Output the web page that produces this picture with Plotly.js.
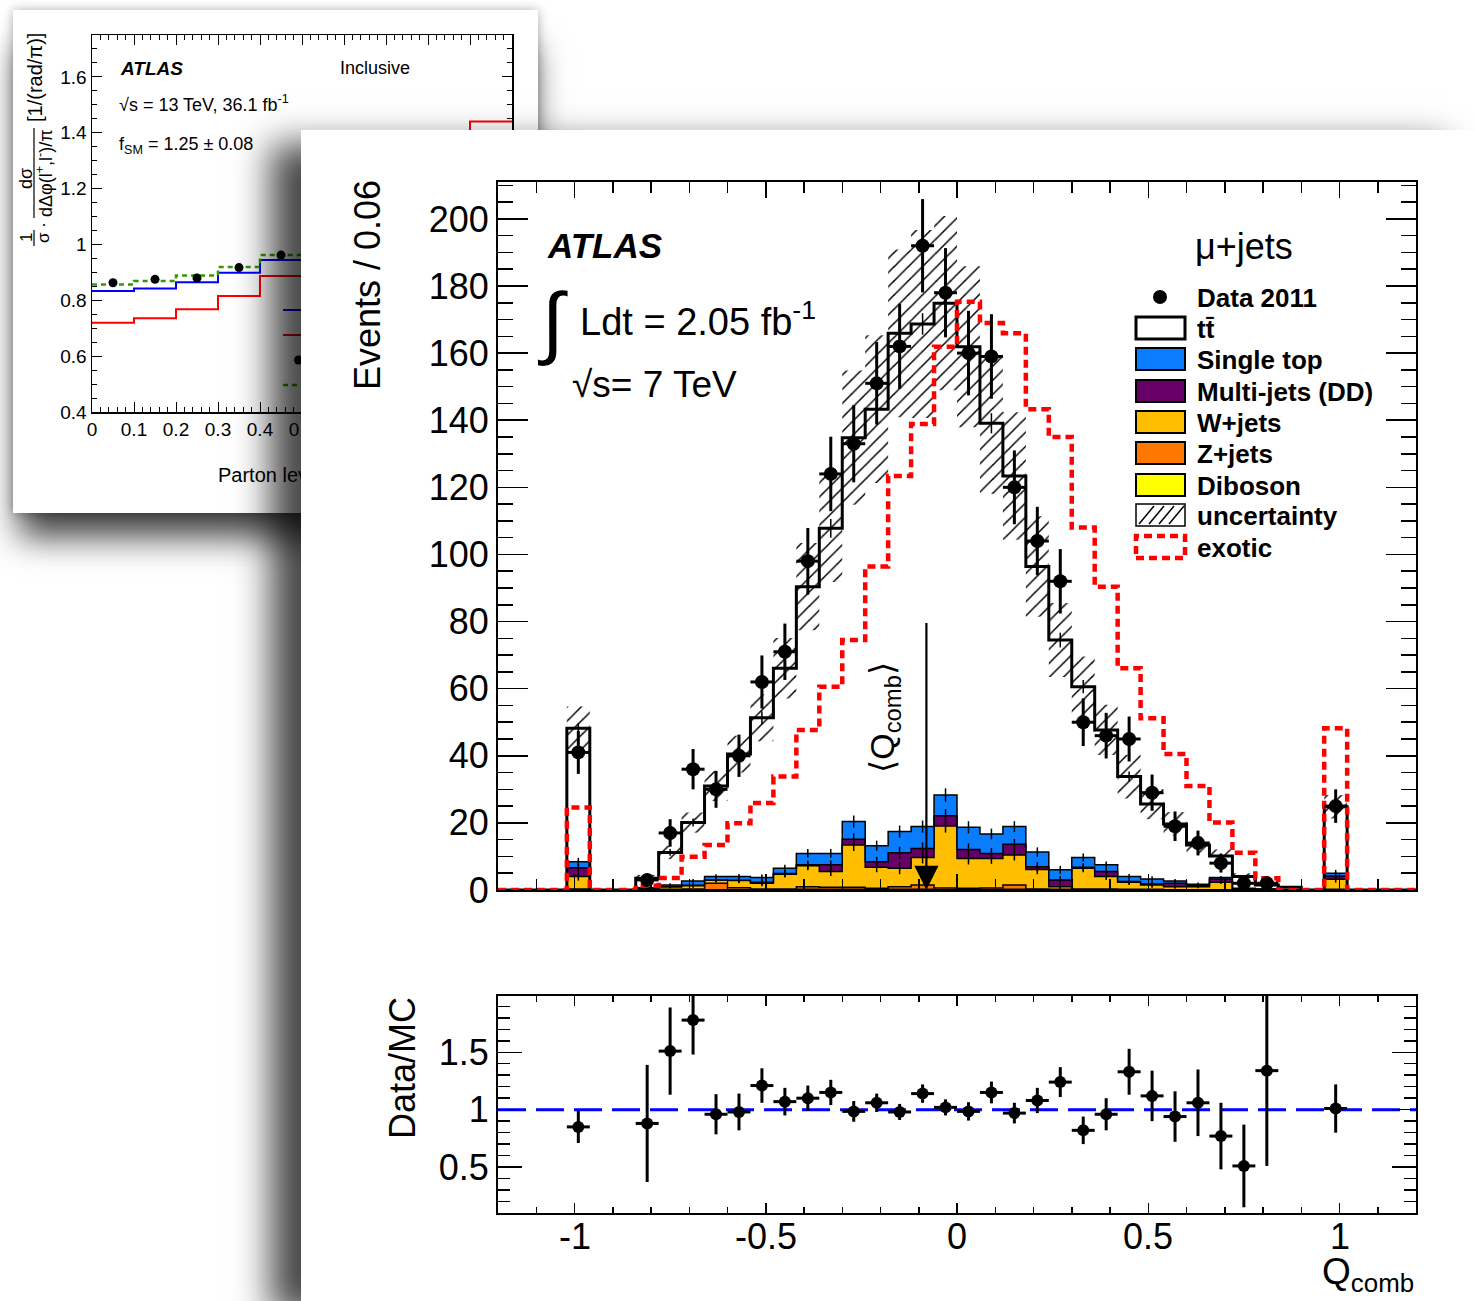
<!DOCTYPE html>
<html><head><meta charset="utf-8">
<script src="https://cdn.plot.ly/plotly-3.0.1.min.js"></script>
<style>
html,body{margin:0;padding:0;background:#fff;width:1475px;height:1301px;overflow:hidden;}
#bg{position:absolute;left:13px;top:10px;width:525px;height:503px;background:#fff;box-shadow:0 30px 32px -6px rgba(0,0,0,0.75),0 0 10px rgba(0,0,0,0.3);z-index:1;}
#main{position:absolute;left:301px;top:130px;width:1174px;height:1171px;background:#fff;box-shadow:-30px 14px 34px rgba(0,0,0,0.72);z-index:2;}
</style></head><body>
<div id="bg"></div><div id="main"></div>
<script>
const FONT = 'Liberation Sans, Arial, Helvetica, DejaVu Sans, sans-serif';

// ================= MAIN CHART DATA =================
const binEdges = [-1.2,-1.14,-1.08,-1.02,-0.96,-0.9,-0.84,-0.78,-0.72,-0.66,-0.6,-0.54,-0.48,-0.42,-0.36,-0.3,-0.24,-0.18,-0.12,-0.06,0,0.06,0.12,0.18,0.24,0.3,0.36,0.42,0.48,0.54,0.6,0.66,0.72,0.78,0.84,0.9,0.96,1.02,1.08,1.14,1.2];
const binCenters = [-1.17,-1.11,-1.05,-0.99,-0.93,-0.87,-0.81,-0.75,-0.69,-0.63,-0.57,-0.51,-0.45,-0.39,-0.33,-0.27,-0.21,-0.15,-0.09,-0.03,0.03,0.09,0.15,0.21,0.27,0.33,0.39,0.45,0.51,0.57,0.63,0.69,0.75,0.81,0.87,0.93,0.99,1.05,1.11,1.17];

const diboson   = [0,0,0,0,0,0,0,0,0,0.1,0.1,0.1,0.1,0.2,0.2,0.2,0.1,0.2,0.2,0.1,0.1,0.1,0.2,0.1,0.1,0.1,0.1,0,0,0,0,0,0,0,0,0,0,0,0,0];
const zjets     = [0,0,0,0.3,0,0,0.1,0.2,0.3,1.9,0.6,0.2,0.2,0.8,0.6,0.6,0.4,0.8,1.3,0.5,0.4,0.5,1.3,0.2,0.1,0.2,0.2,0.2,0.2,0.1,0.1,0.1,0.1,0,0,0,0.2,0,0,0];
const wjets     = [0,0,0,3.7,0,0,0.4,0.8,1.0,1.0,2.1,1.7,4.4,6.2,4.7,12.6,6.3,5.5,8.2,18.5,8.9,8.8,8.9,5.8,0.8,6.2,3.7,2.1,1.3,0.9,0.9,2.2,0.3,0.2,0,0,3.0,0,0,0];
const multijet  = [0,0,0,2.6,0,0,0,0,0.1,0,0.1,0.3,0.2,0.3,2.0,1.7,1.6,4.6,2.7,3.0,2.7,1.5,3.2,0.8,2.0,0.3,1.5,0.2,0.3,1.0,0.3,1.0,0,0,0,0,1.0,0,0,0];
const singletop = [0,0,0,1.8,0,0,0.1,0.5,1.3,1.0,1.1,1.4,1.6,3.4,3.4,5.3,4.8,6.3,6.5,6.2,6.6,5.8,5.3,4.4,3.0,2.9,2.0,1.5,1.5,0.7,0.4,0.4,0.1,0.1,0,0,0.8,0,0,0];
const ttbar     = [0,0,0,39.8,0,0,2.9,9.7,17.4,27.0,36.5,47.6,59.6,79.5,96.9,114.4,130.1,148.5,149.8,146.6,143.2,122.4,104.5,85.1,68.5,50.9,40.2,29.8,22.3,17.0,11.7,6.4,3.5,1.2,0.8,0,19.8,0,0,0];
const mcUnc     = [0,0,0,6.5,0,0,1.0,2.0,3.0,4.5,5.5,7,9,13,16,20,22,25,28,26,24,21,19,15,11,9,7.5,6.5,4.5,3.5,2.5,2,1,0.5,0.3,0,3.5,0,0,0];
const mcStat    = [0,0,0,1.5,0,0,0.5,1,1.2,1.5,1.8,2,2.2,2.5,2.8,3,3,3.2,3.2,3.3,3.2,3,2.8,2.5,2.2,2,1.8,1.5,1.3,1.1,1,0.8,0.5,0.4,0.3,0,1.2,0,0,0];
const bkgStat   = [0,0,0,1.2,0,0,0.3,0.5,0.6,0.7,0.8,0.9,1,1.3,1.3,1.8,1.5,1.8,1.8,2,1.8,1.6,1.6,1.4,1.2,1.2,1,0.8,0.8,0.6,0.5,0.5,0.3,0.2,0,0,1,0,0,0];
const exotic    = [0,0,0,24.6,0,0,1.3,3.6,9.9,13.4,19.9,25.9,33.8,47.7,60.6,74.5,96.4,123.4,138.9,161.9,175.3,169.0,165.9,143.3,135.0,108.0,90.4,66.1,51.2,40.5,31.0,20.1,11.1,3.5,0,0,48.2,0,0,0];

const dataX   = [-0.99,-0.81,-0.75,-0.69,-0.63,-0.57,-0.51,-0.45,-0.39,-0.33,-0.27,-0.21,-0.15,-0.09,-0.03,0.03,0.09,0.15,0.21,0.27,0.33,0.39,0.45,0.51,0.57,0.63,0.69,0.75,0.81,0.99];
const dataY   = [41,3,17,36,30,40,62,71,98,124,133,151,162,192,178,160,159,120,104,92,50,46,45,29,19,14,8,2,2,25];
const dataErr = [6.4,1.7,4.1,6.0,5.5,6.3,7.9,8.4,9.9,11.1,11.5,12.3,12.7,13.9,13.3,12.6,12.6,11.0,10.2,9.6,7.1,6.8,6.7,5.4,4.4,3.7,2.8,1.4,1.4,5.0];
const ratioY   = [0.85,0.88,1.51,1.78,0.96,0.98,1.21,1.07,1.10,1.15,0.985,1.06,0.98,1.14,1.02,0.985,1.15,0.97,1.08,1.24,0.82,0.96,1.33,1.12,0.94,1.06,0.77,0.51,1.34,1.01];
const ratioErr = [0.14,0.51,0.38,0.30,0.175,0.16,0.15,0.12,0.11,0.11,0.09,0.08,0.07,0.08,0.07,0.08,0.095,0.09,0.11,0.13,0.12,0.14,0.20,0.22,0.22,0.29,0.29,0.36,0.83,0.21];

const meanQ = -0.08;
const meanArrowTop = 80;

const legendLabels = ['Data 2011','tt\u0304','Single top','Multi-jets (DD)','W+jets','Z+jets','Diboson','uncertainty','exotic'];
const xTickVals = [-1,-0.5,0,0.5,1];
const xTickText = ['-1','-0.5','0','0.5','1'];

// ================= BACKGROUND CHART DATA =================
const bgEdges   = [0,0.1,0.2,0.3,0.4,0.5];
const bgCenters = [0.05,0.15,0.25,0.35,0.45];
const bgData    = [0.863,0.875,0.88,0.917,0.962];
const bgBlue    = [0.833,0.842,0.865,0.899,0.944];
const bgGreen   = [0.857,0.869,0.889,0.919,0.962];
const bgRed     = [0.72,0.736,0.768,0.815,0.887];
const bgRedTailEdges = [0.8,0.9,1.0];
const bgRedTail = [1.30,1.44];

// ================= helpers =================
const cum = (...arrs) => arrs[0].map((_, i) => arrs.reduce((s, a) => s + a[i], 0));
const stepY = a => a.concat([a[a.length - 1]]);
const lvlD  = cum(diboson);
const lvlZ  = cum(diboson, zjets);
const lvlW  = cum(diboson, zjets, wjets);
const lvlMJ = cum(diboson, zjets, wjets, multijet);
const lvlST = cum(diboson, zjets, wjets, multijet, singletop);
const lvlTot = cum(diboson, zjets, wjets, multijet, singletop, ttbar);

// main-area pixel -> paper
const PX = px => (px - 498) / 918;
const PY = py => (1213 - py) / 1031;

const colST = '#0a7dff', colMJ = '#660066', colW = '#ffbf00', colZ = '#ff7700', colDB = '#ffff00';

const traces = [];
function stackTrace(lvl, color, first) {
  traces.push({type:'scatter', mode:'lines', x: binEdges, y: stepY(lvl), xaxis:'x', yaxis:'y',
    line:{shape:'hv', color:'#000', width:1.5}, fill: first ? 'tozeroy' : 'tonexty', fillcolor: color, hoverinfo:'skip'});
}
stackTrace(lvlD, colDB, true);
stackTrace(lvlZ, colZ, false);
stackTrace(lvlW, colW, false);
stackTrace(lvlMJ, colMJ, false);
stackTrace(lvlST, colST, false);

// uncertainty hatch
const uX = [], uB = [], uH = [];
binCenters.forEach((c, i) => { if (mcUnc[i] > 0) { uX.push(c); uB.push(lvlTot[i] - mcUnc[i]); uH.push(2 * mcUnc[i]); } });
traces.push({type:'bar', x:uX, y:uH, base:uB, width:0.06, xaxis:'x', yaxis:'y',
  marker:{color:'rgba(0,0,0,0)', line:{width:0}, pattern:{shape:'/', fgcolor:'#000', bgcolor:'rgba(0,0,0,0)', size:10, solidity:0.15, fgopacity:1}}});

// total MC (ttbar top)
traces.push({type:'scatter', mode:'lines', x:binEdges, y:stepY(lvlTot), xaxis:'x', yaxis:'y', line:{shape:'hv', color:'#000', width:3}});

// stat ticks
function statTicks(lvl, err) {
  const x = [], y = [], e = [];
  binCenters.forEach((c, i) => { if (err[i] > 0) { x.push(c); y.push(lvl[i]); e.push(err[i]); } });
  traces.push({type:'scatter', mode:'markers', x, y, xaxis:'x', yaxis:'y', marker:{size:1, opacity:0},
    error_y:{type:'data', array:e, visible:true, color:'#000', thickness:1.5, width:0}});
}
statTicks(lvlW, bkgStat);
statTicks(lvlMJ, bkgStat);
statTicks(lvlST, bkgStat);
statTicks(lvlTot, mcStat);

// exotic
traces.push({type:'scatter', mode:'lines', x:binEdges, y:stepY(exotic), xaxis:'x', yaxis:'y', line:{shape:'hv', color:'#ff0000', width:4.5, dash:'8px,5px'}});

// data
traces.push({type:'scatter', mode:'markers', x:dataX, y:dataY, xaxis:'x', yaxis:'y', marker:{color:'#000', size:14},
  error_y:{type:'data', array:dataErr, color:'#000', thickness:3, width:0},
  error_x:{type:'constant', value:0.03, color:'#000', thickness:3, width:0}});

// ratio
traces.push({type:'scatter', mode:'markers', x:dataX, y:ratioY, xaxis:'x2', yaxis:'y2', marker:{color:'#000', size:12},
  error_y:{type:'data', array:ratioErr, color:'#000', thickness:3, width:0},
  error_x:{type:'constant', value:0.03, color:'#000', thickness:3, width:0}});

const ax = {showline:true, linecolor:'#000', linewidth:2, mirror:'allticks', ticks:'inside', tickcolor:'#000', tickwidth:1.5,
  showgrid:false, zeroline:false, tickfont:{family:FONT, size:36, color:'#000'}};

const shapes = [];
const anns = [];

// ratio reference line
shapes.push({type:'line', xref:'x2', yref:'y2', x0:-1.2, x1:1.2, y0:1, y1:1, layer:'below', line:{color:'#0000ff', width:3, dash:'28px,10px'}});

// x tick labels of the ratio panel
xTickVals.forEach((v, i) => anns.push({xref:'x2', yref:'paper', x:v, y:PY(1236), xanchor:'center', yanchor:'middle', showarrow:false,
  text:xTickText[i], font:{family:FONT, size:36, color:'#000'}}));

// Legend
const lx0 = PX(1136), lx1 = PX(1185), ltx = PX(1195);
const rows = [297, 328, 359, 391, 422, 453, 485, 515, 547];
shapes.push({type:'circle', xref:'paper', yref:'paper', x0:PX(1153), x1:PX(1167), y0:PY(304), y1:PY(290), fillcolor:'#000', line:{width:0}});
const boxFill = [null, '#ffffff', colST, colMJ, colW, colZ, colDB];
for (let r = 1; r <= 6; r++) {
  shapes.push({type:'rect', xref:'paper', yref:'paper', x0:lx0, x1:lx1, y0:PY(rows[r]+11), y1:PY(rows[r]-11), fillcolor:boxFill[r], line:{color:'#000', width: r===1 ? 3 : 2}});
}
// uncertainty box
shapes.push({type:'rect', xref:'paper', yref:'paper', x0:lx0, x1:lx1, y0:PY(rows[7]+11), y1:PY(rows[7]-11), line:{color:'#000', width:1.5}});
[1139,1149,1159,1169].forEach(s => shapes.push({type:'line', xref:'paper', yref:'paper', x0:PX(s), x1:PX(s+15), y0:PY(rows[7]+9), y1:PY(rows[7]-9), line:{color:'#000', width:1.5}}));
// exotic box
shapes.push({type:'rect', xref:'paper', yref:'paper', x0:lx0, x1:lx1, y0:PY(rows[8]+11), y1:PY(rows[8]-11), line:{color:'#ff0000', width:4.5, dash:'8px,5px'}});
legendLabels.forEach((t, i) => anns.push({xref:'paper', yref:'paper', x:ltx, y:PY(rows[i]+1), xanchor:'left', yanchor:'middle', showarrow:false,
  text:'<b>'+t+'</b>', font:{family:FONT, size:26, color:'#000'}}));
anns.push({xref:'paper', yref:'paper', x:PX(1193), y:PY(246), xanchor:'left', yanchor:'middle', showarrow:false, text:'\u03bc+jets', font:{family:FONT, size:36, color:'#000'}});

// ATLAS labels
anns.push({xref:'paper', yref:'paper', x:PX(545), y:PY(245), xanchor:'left', yanchor:'middle', showarrow:false, text:'<b><i>ATLAS</i></b>', font:{family:FONT, size:35, color:'#000'}});
anns.push({xref:'paper', yref:'paper', x:PX(535), y:PY(322), xanchor:'left', yanchor:'middle', showarrow:false, text:'\u222b', font:{family:FONT, size:80, color:'#000'}});
anns.push({xref:'paper', yref:'paper', x:PX(578), y:PY(319), xanchor:'left', yanchor:'middle', showarrow:false, text:'Ldt = 2.05 fb<sup>-1</sup>', font:{family:FONT, size:38, color:'#000'}});
anns.push({xref:'paper', yref:'paper', x:PX(570), y:PY(384), xanchor:'left', yanchor:'middle', showarrow:false, text:'\u221as= 7 TeV', font:{family:FONT, size:37, color:'#000'}});

// mean arrow + label
anns.push({xref:'x', yref:'y', x:meanQ, y:0, axref:'x', ayref:'y', ax:meanQ, ay:meanArrowTop, text:'', showarrow:true,
  arrowhead:2, arrowsize:2.2, arrowwidth:2.2, arrowcolor:'#000', standoff:0, startstandoff:0});
anns.push({xref:'paper', yref:'paper', x:PX(885), y:PY(718), xanchor:'center', yanchor:'middle', showarrow:false, textangle:-90,
  text:'\u27e8Q<sub>comb</sub>\u27e9', font:{family:FONT, size:34, color:'#000'}});

// axis titles
anns.push({xref:'paper', yref:'paper', x:PX(368), y:PY(285), xanchor:'center', yanchor:'middle', showarrow:false, textangle:-90,
  text:'Events / 0.06', font:{family:FONT, size:36, color:'#000'}});
anns.push({xref:'paper', yref:'paper', x:PX(402), y:PY(1068), xanchor:'center', yanchor:'middle', showarrow:false, textangle:-90,
  text:'Data/MC', font:{family:FONT, size:36, color:'#000'}});
anns.push({xref:'paper', yref:'paper', x:PX(1416), y:PY(1274), xanchor:'right', yanchor:'middle', showarrow:false,
  text:'Q<sub>comb</sub>', font:{family:FONT, size:37, color:'#000'}});

const layout = {
  width:1174, height:1171, margin:{l:197, r:59, t:52, b:88}, paper_bgcolor:'#fff', plot_bgcolor:'rgba(0,0,0,0)',
  showlegend:false, barmode:'overlay', font:{family:FONT, color:'#000'},
  xaxis: Object.assign({}, ax, {domain:[0,1], anchor:'y', range:[-1.2,1.2], showticklabels:false, tick0:0, dtick:0.5, ticklen:16,
    minor:{ticks:'inside', dtick:0.1, tick0:0, ticklen:11, tickcolor:'#000', tickwidth:1.5}}),
  yaxis: Object.assign({}, ax, {domain:[0.31329,1], anchor:'x', range:[0,211], tick0:0, dtick:20, ticklen:30,
    minor:{ticks:'inside', dtick:5, tick0:0, ticklen:15, tickcolor:'#000', tickwidth:1.5}}),
  xaxis2: Object.assign({}, ax, {domain:[0,1], anchor:'y2', range:[-1.2,1.2], showticklabels:false, tick0:0, dtick:0.5, ticklen:10,
    minor:{ticks:'inside', dtick:0.1, tick0:0, ticklen:6, tickcolor:'#000', tickwidth:1.5}}),
  yaxis2: Object.assign({}, ax, {domain:[0,0.21047], anchor:'x2', range:[0.1,1.99], tick0:0.5, dtick:0.5, ticklen:24,
    minor:{ticks:'inside', dtick:0.1, tick0:0, ticklen:12, tickcolor:'#000', tickwidth:1.5}}),
  shapes, annotations: anns
};
Plotly.newPlot('main', traces, layout, {staticPlot:true});

// ================= BACKGROUND CHART =================
const BX = px => (px - 92) / 420;
const BY = py => (412 - py) / 377;
const bgTraces = [
  {type:'scatter', mode:'lines', x:bgEdges, y:stepY(bgRed), line:{shape:'hv', color:'#ff0000', width:2}},
  {type:'scatter', mode:'lines', x:bgRedTailEdges, y:stepY(bgRedTail), line:{shape:'hv', color:'#ff0000', width:2}},
  {type:'scatter', mode:'lines', x:bgEdges, y:stepY(bgBlue), line:{shape:'hv', color:'#0000ff', width:2}},
  {type:'scatter', mode:'lines', x:bgEdges, y:stepY(bgGreen), line:{shape:'hv', color:'#339900', width:2.5, dash:'5px,4px'}},
  {type:'scatter', mode:'markers', x:bgCenters, y:bgData, marker:{color:'#000', size:9}}
];
const bax = {showline:true, linecolor:'#000', linewidth:1.5, mirror:'allticks', ticks:'inside', tickcolor:'#000', tickwidth:1,
  showgrid:false, zeroline:false, tickfont:{family:FONT, size:19, color:'#000'}};
const bgAnns = [];
const bgShapes = [];
const bA = (px, py, text, size, extra) => bgAnns.push(Object.assign({xref:'paper', yref:'paper', x:BX(px), y:BY(py), xanchor:'left', yanchor:'middle', showarrow:false, text, font:{family:FONT, size, color:'#000'}}, extra || {}));
bA(118, 68, '<b><i>ATLAS</i></b>', 19);
bA(338, 68, 'Inclusive', 18);
bA(117, 103, '\u221as = 13 TeV, 36.1 fb<sup>-1</sup>', 18);
bA(117, 145, 'f<sub>SM</sub> = 1.25 \u00b1 0.08', 18);
bA(216, 473, 'Parton level \u0394\u03c6(l<sup>+</sup>,l<sup>-</sup>)/\u03c0', 20);
// y title pieces (rotated)
const bR = (px, py, text, size) => bgAnns.push({xref:'paper', yref:'paper', x:BX(px), y:BY(py), xanchor:'center', yanchor:'middle', showarrow:false, textangle:-90, text, font:{family:FONT, size, color:'#000'}});
bR(35, 78, '[1/(rad/\u03c0)]', 20);
bR(26, 179, 'd\u03c3', 18);
bR(44, 173, 'd\u0394\u03c6(l<sup>+</sup>,l<sup>-</sup>)/\u03c0', 18);
bR(43, 225, '\u00b7', 18);
bR(26, 238, '1', 17);
bR(43, 238, '\u03c3', 17);
bgShapes.push({type:'line', xref:'paper', yref:'paper', x0:BX(34), x1:BX(34), y0:BY(128), y1:BY(218), line:{color:'#000', width:1.2}});
bgShapes.push({type:'line', xref:'paper', yref:'paper', x0:BX(34), x1:BX(34), y0:BY(230), y1:BY(246), line:{color:'#000', width:1.2}});
// legend glyphs (mostly hidden)
bgShapes.push({type:'line', xref:'paper', yref:'paper', x0:BX(283), x1:BX(330), y0:BY(310), y1:BY(310), line:{color:'#0000ff', width:2}});
bgShapes.push({type:'line', xref:'paper', yref:'paper', x0:BX(283), x1:BX(330), y0:BY(335), y1:BY(335), line:{color:'#ff0000', width:2}});
bgShapes.push({type:'circle', xref:'paper', yref:'paper', x0:BX(294), x1:BX(303), y0:BY(364.5), y1:BY(355.5), fillcolor:'#000', line:{width:0}});
bgShapes.push({type:'line', xref:'paper', yref:'paper', x0:BX(283), x1:BX(330), y0:BY(385), y1:BY(385), line:{color:'#339900', width:2.5, dash:'5px,4px'}});

Plotly.newPlot('bg', bgTraces, {
  width:525, height:503, margin:{l:79, r:26, t:25, b:101}, paper_bgcolor:'#fff', plot_bgcolor:'rgba(0,0,0,0)', showlegend:false,
  xaxis: Object.assign({}, bax, {range:[0,1], tick0:0, dtick:0.1, ticklen:10,
    labelalias:{'0.6':' ', '0.7':' ', '0.8':' ', '0.9':' ', '1':' '},
    minor:{ticks:'inside', dtick:0.02, ticklen:5, tickcolor:'#000'}}),
  yaxis: Object.assign({}, bax, {range:[0.4,1.75], tick0:0.4, dtick:0.2, ticklen:10, minor:{ticks:'inside', dtick:0.05, ticklen:5, tickcolor:'#000'}}),
  shapes: bgShapes, annotations: bgAnns
}, {staticPlot:true});
</script></body></html>
